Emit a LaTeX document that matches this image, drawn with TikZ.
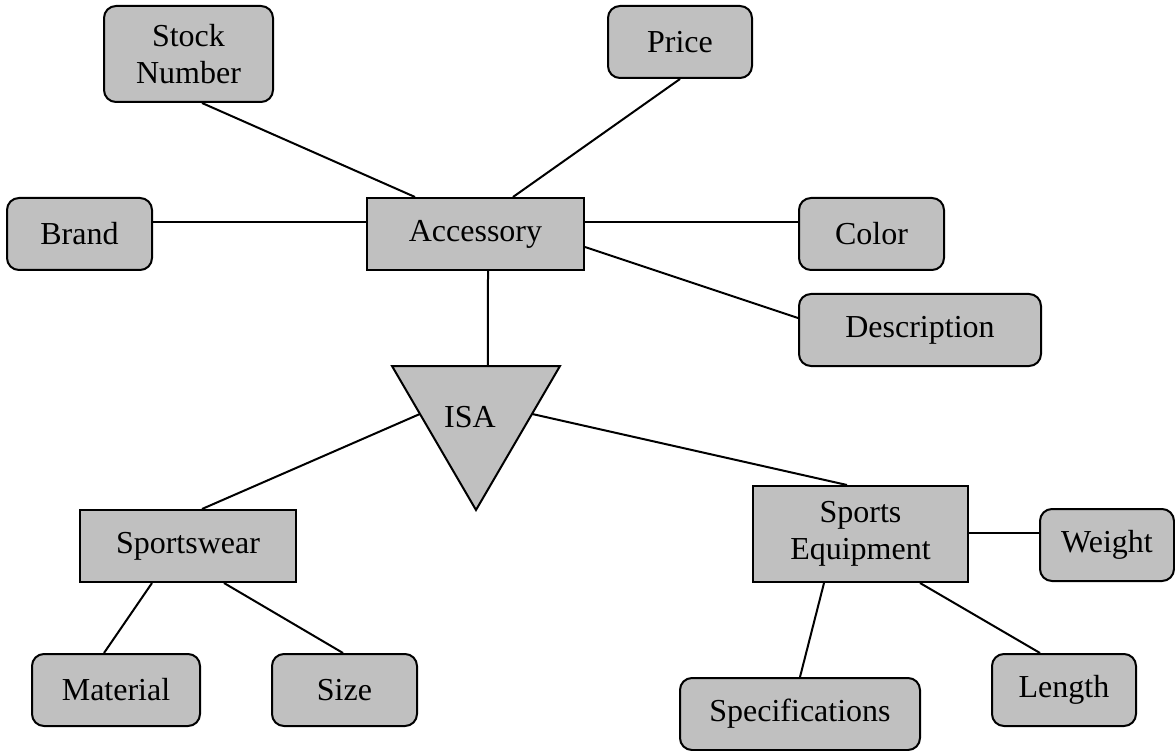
\documentclass[tikz,border=0pt]{standalone}
\usepackage{fontspec}
\setmainfont{Liberation Serif}
\usetikzlibrary{calc}
\definecolor{boxgray}{RGB}{192,192,192}
\tikzset{
  base/.style={draw=black, fill=boxgray, line width=2pt, inner sep=0pt,
    align=center, font=\fontsize{32}{37}\selectfont},
  attr/.style={base, rounded corners=12pt},
  entity/.style={base},
  link/.style={line width=2pt},
}
\begin{document}
\begin{tikzpicture}[x=1pt, y=-1pt]
\useasboundingbox (0,0) rectangle (1175,751);

% attributes of Accessory
\node[attr, minimum width=169pt, minimum height=96pt] (stock) at (188.5,54) {Stock\\Number};
\node[attr, minimum width=144pt, minimum height=72pt] (price) at (680,42) {Price};
\node[attr, minimum width=145pt, minimum height=72pt] (brand) at (79.5,234) {Brand};
\node[attr, minimum width=145pt, minimum height=72pt] (color) at (871.5,234) {Color};
\node[attr, minimum width=242pt, minimum height=72pt] (descr) at (920,330) {Description};

% entities
\node[entity, minimum width=217pt, minimum height=72pt] (acc) at (475.5,234) {Accessory};
\node[entity, minimum width=216pt, minimum height=72pt] (wear) at (188,546) {Sportswear};
\node[entity, minimum width=215pt, minimum height=96pt] (equip) at (860.5,534) {Sports\\Equipment};

% attributes of the subclasses
\node[attr, minimum width=168pt, minimum height=72pt] (material) at (116,690) {Material};
\node[attr, minimum width=145pt, minimum height=72pt] (size) at (344.5,690) {Size};
\node[attr, minimum width=134pt, minimum height=72pt] (weight) at (1107,545) {Weight};
\node[attr, minimum width=144pt, minimum height=72pt] (length) at (1064,690) {Length};
\node[attr, minimum width=240pt, minimum height=72pt] (spec) at (800,714) {Specifications};

% ISA triangle
\coordinate (isaL) at (392,366);
\coordinate (isaR) at (560,366);
\coordinate (isaB) at (476,510);
\draw[fill=boxgray, line width=2pt, line join=miter] (isaL) -- (isaR) -- (isaB) -- cycle;
\node[font=\fontsize{32}{37}\selectfont, inner sep=0pt] (isa) at (470,417) {ISA};

% connectors
\draw[link] ([xshift=13.5pt]stock.south) -- ([xshift=-60.5pt]acc.north);
\draw[link] (price.south) -- ([xshift=37.5pt]acc.north);
\draw[link] ([yshift=12pt]brand.east) -- ([yshift=12pt]acc.west);
\draw[link] ([yshift=12pt]acc.east) -- ([yshift=12pt]color.west);
\draw[link] ([yshift=-13pt]acc.east) -- ([yshift=12pt]descr.west);
\draw[link] ([xshift=12.5pt]acc.south) -- ($(isaL)!0.571!(isaR)$);
\draw[link] ($(isaL)!0.333!(isaB)$) -- ([xshift=14pt]wear.north);
\draw[link] ($(isaR)!0.333!(isaB)$) -- ([xshift=-13.5pt]equip.north);
\draw[link] ([xshift=-36pt]wear.south) -- ([xshift=-12pt]material.north);
\draw[link] ([xshift=36pt]wear.south) -- ([xshift=-1.5pt]size.north);
\draw[link] ([yshift=1pt]equip.east) -- ([yshift=12pt]weight.west);
\draw[link] ([xshift=-36.5pt]equip.south) -- (spec.north);
\draw[link] ([xshift=59.5pt]equip.south) -- ([xshift=-24pt]length.north);
\end{tikzpicture}
\end{document}
